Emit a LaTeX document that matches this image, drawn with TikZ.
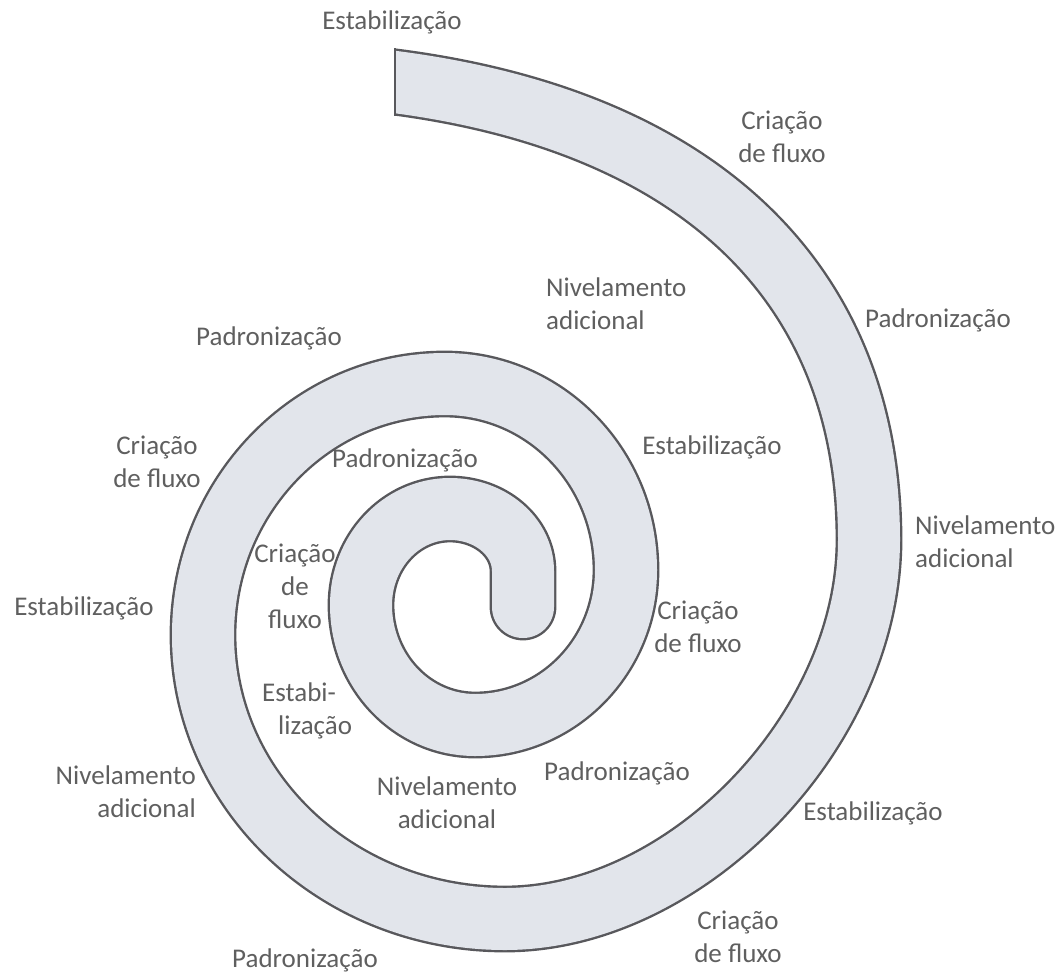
\documentclass[tikz,border=0pt]{standalone}
\usepackage{fontspec}
\setmainfont{Carlito}
\definecolor{bandfill}{RGB}{226,229,235}
\definecolor{bandline}{RGB}{88,88,92}
\definecolor{labelgray}{RGB}{95,95,95}
\begin{document}
\begin{tikzpicture}[x=1pt,y=1pt,
  lbl/.style={text=labelgray, font=\fontsize{27}{33}\selectfont, inner sep=0pt, align=center},
  band/.style={draw=bandline, line width=2.4pt, double=bandfill, double distance=62pt,
               line cap=round, line join=round}]
\useasboundingbox (0,0) rectangle (1063,-975);

% spiral band, winding clockwise from the flat top end to the rounded centre end
\begin{scope}
  \clip (395,0) -- (1063,0) -- (1063,-975) -- (0,-975) -- (0,-200) -- (395,-200) -- cycle;
  \draw[band] (330,-74) -- (395,-82)
    .. controls (695,-121) and (869,-280) .. (869,-540)
    .. controls (869,-730) and (687,-919) .. (505,-919)
    arc[start angle=-90, end angle=-180, x radius=302, y radius=284]
    arc[start angle=180, end angle=90,   x radius=242, y radius=251]
    arc[start angle=90,  end angle=0,    x radius=181, y radius=186]
    arc[start angle=0,   end angle=-90,  x radius=151, y radius=155]
    arc[start angle=-90, end angle=-180, x radius=114, y radius=120]
    arc[start angle=180, end angle=90,   x radius=89,  y radius=96]
    arc[start angle=90,  end angle=0,    x radius=73,  y radius=62]
    -- ++(0,-36) coordinate (tip);
\end{scope}
\coordinate (endtop) at (395,-48);
\coordinate (endbot) at (395,-116);
\draw[bandline, line width=2.4pt] (endtop) -- (endbot);

% stage labels
\node[lbl] (stab1) at (392,-22) {Estabilização};
\node[lbl] (flux1) at (782,-137) {Criação\\de fluxo};
\node[lbl, align=left, anchor=west] (niv1) at (546,-304) {Nivelamento\\adicional};
\node[lbl] (pad1) at (938,-320) {Padronização};
\node[lbl] (pad2) at (269,-338) {Padronização};
\node[lbl] (flux2) at (157,-462) {Criação\\de fluxo};
\node[lbl] (pad3) at (405,-460) {Padronização};
\node[lbl] (stab2) at (712,-447) {Estabilização};
\node[lbl, align=left, anchor=west] (niv2) at (915,-542) {Nivelamento\\adicional};
\node[lbl] (flux3) at (295,-586) {Criação\\de\\fluxo};
\node[lbl] (stab3) at (84,-608) {Estabilização};
\node[lbl] (flux4) at (698,-627) {Criação\\de fluxo};
\node[lbl, align=left, anchor=west] (stab4) at (262,-711) {Estabi-\\\hspace*{16pt}lização};
\node[lbl, align=right, anchor=east] (niv3) at (196,-792) {Nivelamento\\adicional};
\node[lbl] (niv4) at (447,-803) {Nivelamento\\adicional};
\node[lbl] (pad4) at (617,-773) {Padronização};
\node[lbl] (stab5) at (873,-813) {Estabilização};
\node[lbl] (flux5) at (738,-937) {Criação\\de fluxo};
\node[lbl] (pad5) at (305,-960) {Padronização};
\end{tikzpicture}
\end{document}
